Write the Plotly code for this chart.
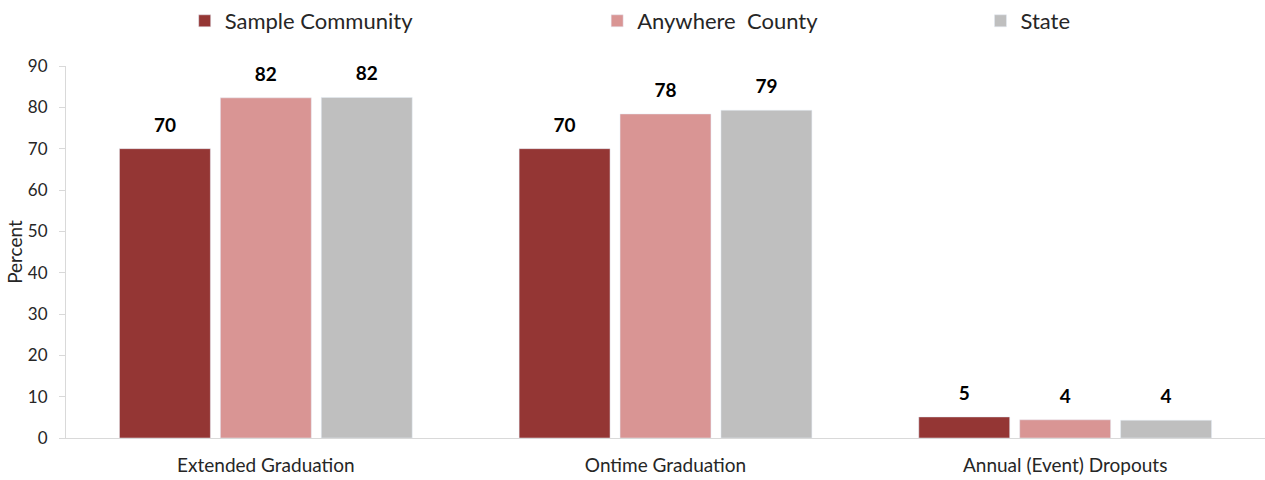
import plotly.graph_objects as go

categories = ["Extended Graduation", "Ontime Graduation", "Annual (Event) Dropouts"]
series_names = ["Sample Community", "Anywhere  County", "State"]
sample_vals = [70.0, 70.0, 5.1]
county_vals = [82.3, 78.4, 4.4]
state_vals = [82.4, 79.3, 4.3]
label_vals = [[70, 70, 5], [82, 78, 4], [82, 79, 4]]
colors = ["#943634", "#D99594", "#BFBFBF"]
y_ticks = [0, 10, 20, 30, 40, 50, 60, 70, 80, 90]

FONT = "Lato, 'Open Sans', sans-serif"
TXT = "#262626"
GRID = "#D9D9D9"

fig = go.Figure()
all_vals = [sample_vals, county_vals, state_vals]
legend_ids = ["legend", "legend2", "legend3"]
for i, (name, vals, col) in enumerate(zip(series_names, all_vals, colors)):
    fig.add_trace(go.Bar(
        x=categories, y=vals, name=name, marker_color=col,
        offsetgroup=str(i), legend=legend_ids[i],
        hovertemplate="%{x}: %{y}<extra>" + name + "</extra>",
    ))
for i, (vals, labs) in enumerate(zip(all_vals, label_vals)):
    fig.add_trace(go.Scatter(
        x=categories, y=vals, mode="markers+text", offsetgroup=str(i),
        text=[f"<b>{v}</b>" for v in labs], textposition="top center",
        textfont=dict(family=FONT, size=19, color="#000000"),
        marker=dict(size=18, opacity=0), showlegend=False, hoverinfo="skip",
        cliponaxis=False,
    ))

leg_common = dict(y=1.1206, xanchor="left", yanchor="middle", borderwidth=0,
                  font=dict(size=22, color=TXT), bgcolor="rgba(0,0,0,0)")
fig.update_layout(
    width=1265, height=480,
    margin=dict(l=66, r=0, t=65, b=42),
    paper_bgcolor="white", plot_bgcolor="white",
    font=dict(family=FONT, color=TXT),
    barmode="group", bargap=0.2425, bargroupgap=0.099,
    scattermode="group", scattergap=0.2425,
    legend=dict(x=0.099, **leg_common),
    legend2=dict(x=0.443, **leg_common),
    legend3=dict(x=0.7627, **leg_common),
)
fig.update_xaxes(
    showline=True, linecolor=GRID, linewidth=1, showgrid=False,
    ticks="", tickfont=dict(size=19, color=TXT), zeroline=False,
    ticklabelstandoff=10,
)
fig.update_yaxes(
    range=[0, 90], tickvals=y_ticks, showline=True, linecolor=GRID, linewidth=1,
    showgrid=False, zeroline=False, ticks="outside", ticklen=6, tickcolor=GRID,
    tickfont=dict(size=17, color=TXT), ticklabelstandoff=8,
    title=dict(text="Percent", font=dict(size=19, color=TXT), standoff=0),
)

fig.write_html("out.html", config={"displayModeBar": False},
               post_script="document.body.style.margin='0';")
